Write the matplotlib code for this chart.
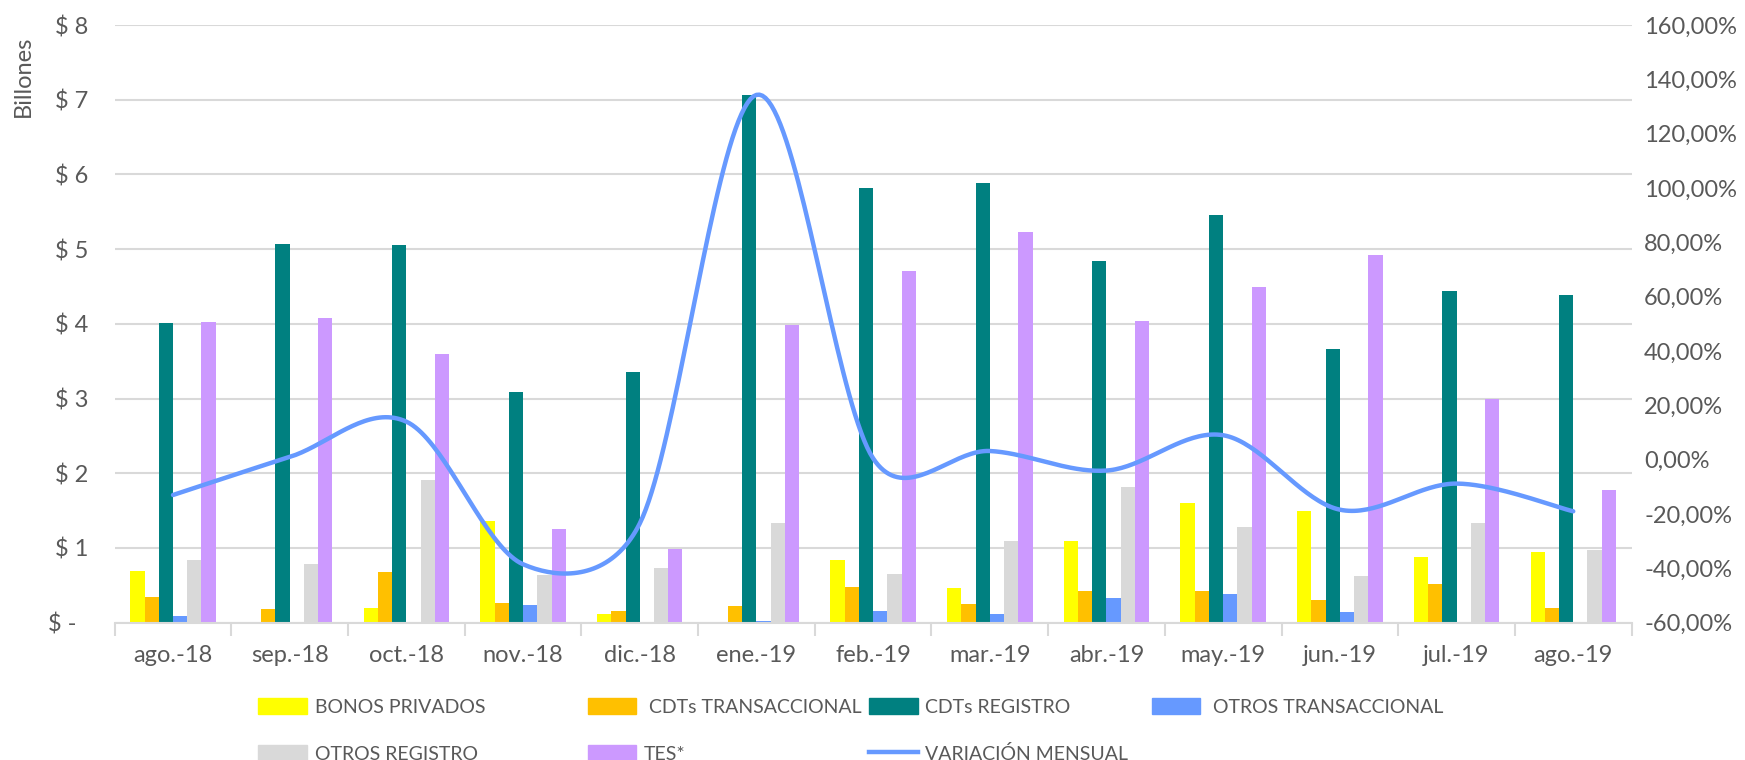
import numpy as np
import matplotlib
matplotlib.use("Agg")
import matplotlib.pyplot as plt
from matplotlib.patches import Patch
from matplotlib.lines import Line2D
from matplotlib.ticker import FixedLocator

plt.rcParams['font.family'] = ['Lato', 'DejaVu Sans']

### Data (billones de pesos / variacion %)
meses = ["ago.-18", "sep.-18", "oct.-18", "nov.-18", "dic.-18", "ene.-19", "feb.-19",
         "mar.-19", "abr.-19", "may.-19", "jun.-19", "jul.-19", "ago.-19"]

bonos_privados = [0.69, 0.0, 0.19, 1.36, 0.11, 0.0, 0.84, 0.47, 1.09, 1.60, 1.49, 0.88, 0.94]
cdts_transaccional = [0.34, 0.18, 0.68, 0.26, 0.16, 0.22, 0.48, 0.25, 0.42, 0.43, 0.31, 0.52, 0.20]
cdts_registro = [4.01, 5.07, 5.05, 3.09, 3.35, 7.06, 5.82, 5.89, 4.84, 5.46, 3.66, 4.44, 4.38]
otros_transaccional = [0.09, 0.0, 0.0, 0.24, 0.01, 0.02, 0.16, 0.12, 0.33, 0.38, 0.14, 0.01, 0.0]
otros_registro = [0.84, 0.79, 1.91, 0.64, 0.73, 1.33, 0.65, 1.09, 1.82, 1.28, 0.62, 1.34, 0.97]
tes = [4.02, 4.08, 3.60, 1.26, 0.99, 3.99, 4.71, 5.23, 4.04, 4.50, 4.92, 3.00, 1.78]
variacion_mensual = [-13.0, 1.0, 14.0, -38.5, -23.5, 134.3, 0.5, 3.2, -4.0, 9.0, -18.4, -8.8, -19.0]

series = [bonos_privados, cdts_transaccional, cdts_registro, otros_transaccional, otros_registro, tes]
nombres = ["BONOS PRIVADOS", " CDTs TRANSACCIONAL", "CDTs REGISTRO", " OTROS TRANSACCIONAL",
           "OTROS REGISTRO", "TES*"]
colores = ["#FFFF00", "#FFC000", "#008080", "#6699FF", "#D9D9D9", "#CC99FF"]
color_linea = "#6699FF"
gris_texto = "#595959"
gris_linea = "#D9D9D9"
fs_ticks = 17
fs_leyenda = 14


def smooth_line(axis, x, y, n=40):
    # linea suavizada al estilo Excel: Bezier en pixeles, con el
    # punto de control limitado a media cuerda del tramo
    pts = axis.transData.transform(np.column_stack([x, y]))
    P = np.vstack([pts[0], pts, pts[-1]])
    t = np.linspace(0, 1, n)[:, None]
    out = []
    for i in range(1, len(P) - 2):
        d02 = np.linalg.norm(P[i + 1] - P[i - 1])
        d12 = np.linalg.norm(P[i + 1] - P[i])
        d13 = np.linalg.norm(P[i + 2] - P[i])
        f0 = 1 / 6 if d02 / 6 < d12 / 2 else d12 / 2 / d02
        f1 = 1 / 6 if d13 / 6 < d12 / 2 else d12 / 2 / d13
        c1 = P[i] + (P[i + 1] - P[i - 1]) * f0
        c2 = P[i + 1] - (P[i + 2] - P[i]) * f1
        b = (1 - t) ** 3 * P[i] + 3 * (1 - t) ** 2 * t * c1 + 3 * (1 - t) * t ** 2 * c2 + t ** 3 * P[i + 1]
        out.append(b)
    out = np.vstack(out)
    back = axis.transData.inverted().transform(out)
    return back[:, 0], back[:, 1]


fig = plt.figure(figsize=(17.45, 7.6), dpi=100)
ax = fig.add_axes([0.0657, 0.1807, 0.8693, 0.7863])

x = np.arange(len(meses))
w = 0.122
for i, (vals, nombre, c) in enumerate(zip(series, nombres, colores)):
    ax.bar(x + (i - 2.5) * w, vals, width=w, color=c, label=nombre, zorder=2)

ax.set_xlim(-0.5, len(meses) - 0.5)
ax.set_ylim(0, 8)
ax.set_yticks(range(0, 9))
ax.set_yticklabels(["$ -  "] + ["$ %d" % v for v in range(1, 9)])
ax.set_ylabel("Billones", fontsize=fs_ticks, color=gris_texto)
ax.yaxis.set_label_coords(-0.0535, 0.915)
ax.grid(axis="y", color=gris_linea, linewidth=1.5)
ax.set_axisbelow(True)
ax.set_xticks(x)
ax.set_xticklabels(meses)
ax.xaxis.set_minor_locator(FixedLocator(np.arange(-0.5, len(meses), 1.0)))
ax.tick_params(axis="x", which="major", length=0, pad=16, labelsize=fs_ticks, labelcolor=gris_texto)
ax.tick_params(axis="x", which="minor", length=9, width=1.5, color=gris_linea)
ax.tick_params(axis="y", length=0, pad=19, labelsize=fs_ticks, labelcolor=gris_texto)
for s in ["top", "left", "right"]:
    ax.spines[s].set_visible(False)
ax.spines["bottom"].set_color(gris_linea)
ax.spines["bottom"].set_linewidth(1.5)

ax2 = ax.twinx()
ax2.set_ylim(-60, 160)
ax2.set_xlim(-0.5, len(meses) - 0.5)
sx, sy = smooth_line(ax2, x, variacion_mensual)
ax2.plot(sx, sy, color=color_linea, linewidth=3.2, solid_capstyle="round", zorder=3)
ax2.set_yticks(range(-60, 161, 20))
ax2.set_yticklabels(["%d,00%%" % v for v in range(-60, 161, 20)])
ax2.tick_params(axis="y", length=0, pad=9, labelsize=fs_ticks, labelcolor=gris_texto)
for s in ["top", "left", "right", "bottom"]:
    ax2.spines[s].set_visible(False)

# leyenda: una columna por bloque, como en Excel
h = [Patch(color=c) for c in colores]
hl = Line2D([], [], color=color_linea, linewidth=3.2)
columnas = [([h[0], h[4]], [nombres[0], nombres[4]]),
            ([h[1], h[5]], [nombres[1], nombres[5]]),
            ([h[2], hl], [nombres[2], "VARIACIÓN MENSUAL"]),
            ([h[3]], [nombres[3]])]
col_x = [0.148, 0.3368, 0.498, 0.660]
for (hh, ll), cx in zip(columnas, col_x):
    fig.legend(hh, ll, loc="upper left", bbox_to_anchor=(cx, 0.082),
               frameon=False, fontsize=fs_leyenda, labelcolor=gris_texto, borderpad=0,
               borderaxespad=0, handlelength=2.5, handleheight=0.95, handletextpad=0.4,
               labelspacing=1.5)

fig.savefig("out.png", dpi=100)
